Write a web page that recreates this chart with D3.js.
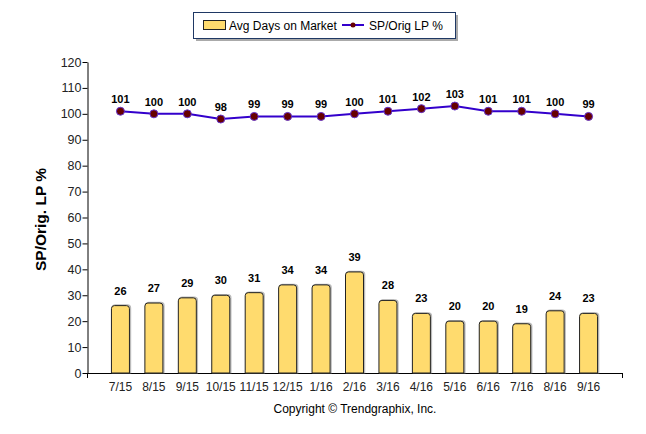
<!DOCTYPE html>
<html>
<head>
<meta charset="utf-8">
<script src="https://cdn.jsdelivr.net/npm/d3@7"></script>
<style>
  body { margin: 0; background: #fff; }
  text { font-family: "Liberation Sans", Arial, sans-serif; }
</style>
</head>
<body>
<svg id="chart" width="646" height="434"></svg>
<script>
const months = ['7/15','8/15','9/15','10/15','11/15','12/15','1/16','2/16','3/16','4/16','5/16','6/16','7/16','8/16','9/16'];
const avgDays = [26,27,29,30,31,34,34,39,28,23,20,20,19,24,23];
const spOrig = [101,100,100,98,99,99,99,100,101,102,103,101,101,100,99];
const yTicks = [0,10,20,30,40,50,60,70,80,90,100,110,120];

const svg = d3.select('#chart');
const plotLeft = 87, plotRight = 622, plotTop = 62, plotBottom = 373;

const x = d3.scalePoint().domain(months).range([plotLeft, plotRight]).padding(1);
const y = d3.scaleLinear().domain([0, 120]).range([plotBottom, plotTop]);

// legend
const legend = svg.append('g');
legend.append('rect').attr('x', 196).attr('y', 15).attr('width', 262).attr('height', 26).attr('fill', '#aaa');
legend.append('rect').attr('x', 193.5).attr('y', 12.5).attr('width', 262).attr('height', 26)
  .attr('fill', '#fff').attr('stroke', '#1f3864').attr('stroke-width', 1);
legend.append('rect').attr('x', 203.5).attr('y', 20.5).attr('width', 22).attr('height', 9)
  .attr('fill', '#FFDB6E').attr('stroke', '#222');
legend.append('text').attr('x', 229).attr('y', 30).attr('font-size', 12).attr('fill', '#000').text('Avg Days on Market');
legend.append('line').attr('x1', 342).attr('x2', 364).attr('y1', 25).attr('y2', 25).attr('stroke', '#3300CC').attr('stroke-width', 2);
legend.append('circle').attr('cx', 353).attr('cy', 25).attr('r', 2.5).attr('fill', '#660000');
legend.append('text').attr('x', 369).attr('y', 30).attr('font-size', 12).attr('fill', '#000').text('SP/Orig LP %');

// axes
const yAxis = svg.append('g').attr('transform', `translate(${plotLeft + 0.5},0)`)
  .call(d3.axisLeft(y).tickValues(yTicks).tickSize(5).tickSizeOuter(0));
yAxis.select('.domain').attr('stroke', '#000');
yAxis.selectAll('.tick line').attr('stroke', '#000');
yAxis.selectAll('.tick text').attr('font-size', 12.5).attr('fill', '#222').attr('font-family', '"Liberation Sans", Arial, sans-serif').attr('x', -6);

svg.append('line').attr('x1', plotLeft).attr('x2', plotRight).attr('y1', plotBottom + 0.5).attr('y2', plotBottom + 0.5).attr('stroke', '#000');
[plotLeft, plotRight].forEach(px => {
  svg.append('line').attr('x1', px + 0.5).attr('x2', px + 0.5).attr('y1', plotBottom).attr('y2', plotBottom + 5).attr('stroke', '#000');
});

svg.selectAll('.xlab').data(months).enter().append('text')
  .attr('x', d => x(d)).attr('y', plotBottom + 18).attr('text-anchor', 'middle')
  .attr('font-size', 12).attr('fill', '#222').text(d => d);

svg.append('text').attr('transform', `translate(46,${(plotTop + plotBottom) / 2 + 2}) rotate(-90)`)
  .attr('text-anchor', 'middle').attr('font-size', 15.5).attr('font-weight', 'bold').attr('fill', '#000')
  .text('SP/Orig. LP %');

// bars
const bw = 18, r = 3;
function barPath(cx, v) {
  const x0 = cx - bw / 2, x1 = cx + bw / 2, y0 = y(v), yb = plotBottom;
  return `M${x0},${yb} L${x0},${y0 + r} Q${x0},${y0} ${x0 + r},${y0} L${x1 - r},${y0} Q${x1},${y0} ${x1},${y0 + r} L${x1},${yb}`;
}
const bars = svg.append('g');
months.forEach((m, i) => {
  bars.append('path').attr('d', barPath(x(m) + 1, avgDays[i]) + 'Z')
    .attr('fill', 'none').attr('stroke', '#bbb').attr('stroke-width', 1.5)
    .attr('transform', 'translate(0,-0.5)');
  bars.append('path').attr('d', barPath(x(m), avgDays[i]) + 'Z')
    .attr('fill', '#FFDB6E').attr('stroke', '#222').attr('stroke-width', 1);
  bars.append('text').attr('x', x(m)).attr('y', y(avgDays[i]) - 11)
    .attr('text-anchor', 'middle').attr('font-size', 11).attr('font-weight', 'bold').attr('fill', '#000')
    .text(avgDays[i]);
});

// line
const line = d3.line().x((d, i) => x(months[i])).y(d => y(d));
svg.append('path').datum(spOrig).attr('d', line)
  .attr('fill', 'none').attr('stroke', '#3300CC').attr('stroke-width', 2);
svg.selectAll('.pt').data(spOrig).enter().append('circle')
  .attr('cx', (d, i) => x(months[i])).attr('cy', d => y(d)).attr('r', 4)
  .attr('fill', '#660000').attr('stroke', '#6633CC').attr('stroke-width', 1);
svg.selectAll('.plab').data(spOrig).enter().append('text')
  .attr('x', (d, i) => x(months[i])).attr('y', d => y(d) - 8)
  .attr('text-anchor', 'middle').attr('font-size', 11).attr('font-weight', 'bold').attr('fill', '#000')
  .text(d => d);

svg.append('text').attr('x', 355).attr('y', 413).attr('text-anchor', 'middle')
  .attr('font-size', 12).attr('fill', '#000').text('Copyright © Trendgraphix, Inc.');
</script>
</body>
</html>
